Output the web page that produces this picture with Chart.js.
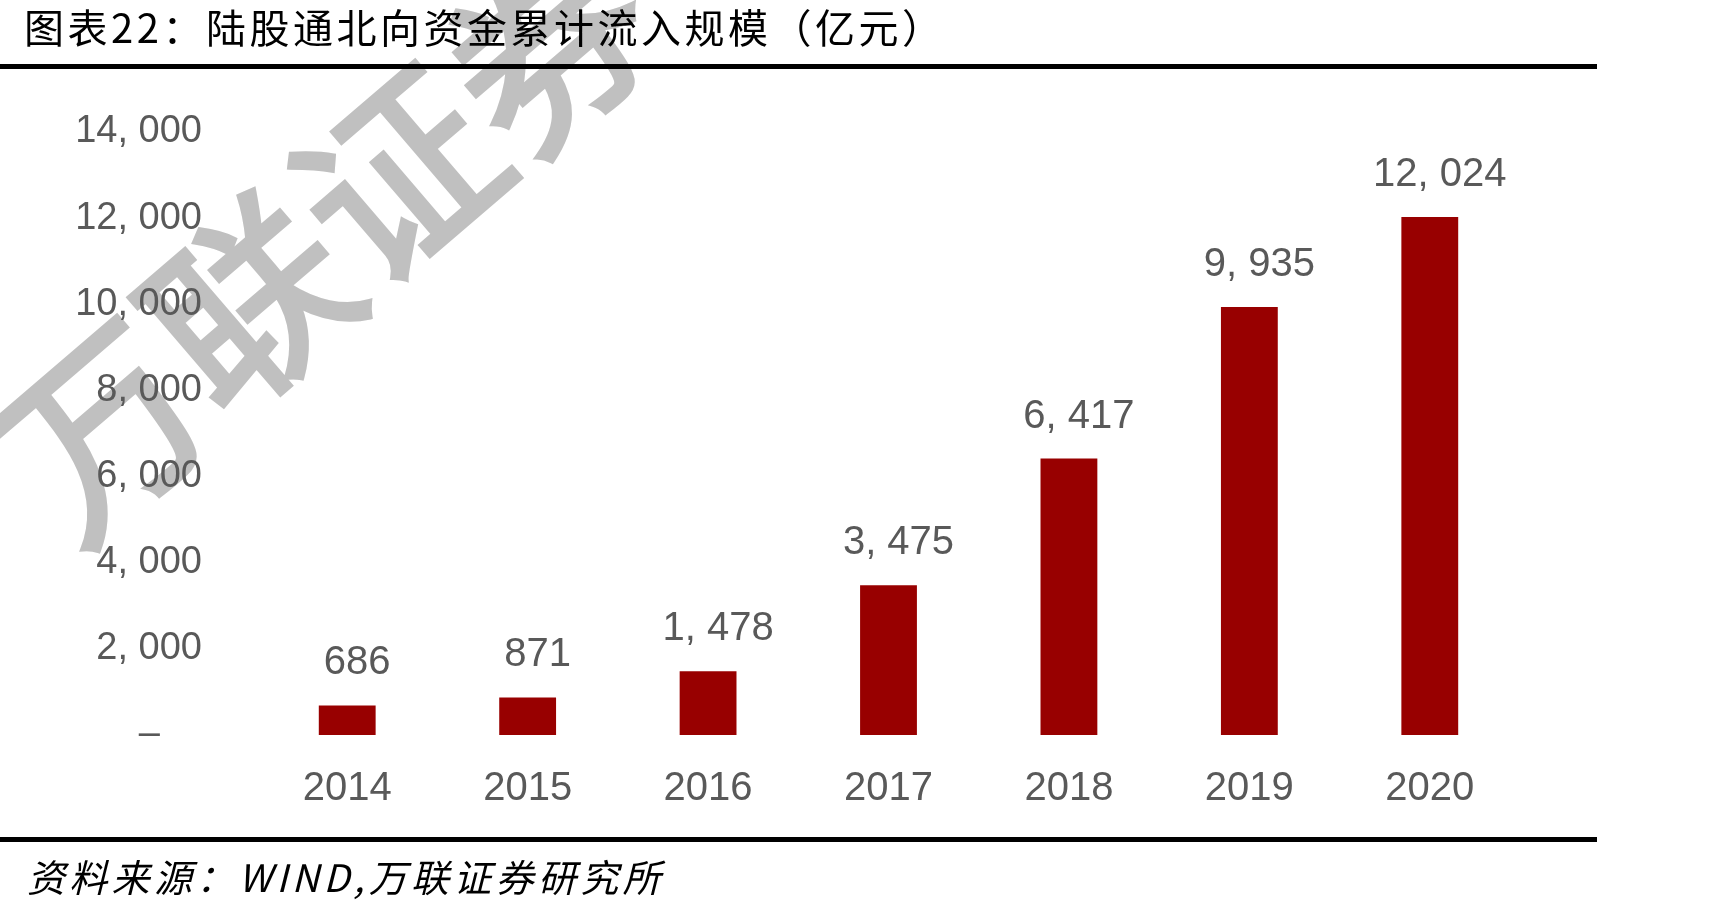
<!DOCTYPE html>
<html>
<head>
<meta charset="utf-8">
<script src="https://cdn.jsdelivr.net/npm/chart.js@4.4.1/dist/chart.umd.min.js"></script>
<style>
  html, body { margin: 0; padding: 0; background: #fff; }
  .wrap { position: relative; width: 1725px; height: 913px; overflow: hidden; }
  #chart { position: absolute; left: 0; top: 0; }
  .title {
    position: absolute; left: 24px; top: 3px;
    font-family: "Noto Sans CJK SC", sans-serif; font-size: 40px; line-height: 46px;
    letter-spacing: 3.5px; color: #000; white-space: nowrap;
  }
  .rule { position: absolute; left: 0; width: 1597px; height: 5px; background: #000; }
  .source {
    position: absolute; left: 27px; top: 853px;
    font-family: "Noto Sans CJK SC", sans-serif; font-size: 38px; line-height: 46px;
    font-style: italic; letter-spacing: 4.3px; color: #000; white-space: nowrap;
  }
</style>
</head>
<body>
<div class="wrap">
  <canvas id="chart" width="1725" height="913"></canvas>
  <div class="title">图表22：陆股通北向资金累计流入规模（亿元）</div>
  <div class="rule" style="top:64px"></div>
  <div class="rule" style="top:837px"></div>
  <div class="source">资料来源：WIND,万联证券研究所</div>
</div>
<script>
// data
const years = ['2014', '2015', '2016', '2017', '2018', '2019', '2020'];
const inflow = [686, 871, 1478, 3475, 6417, 9935, 12024];
const yTicks = [0, 2000, 4000, 6000, 8000, 10000, 12000, 14000];

const grey = '#595959';
const fmt = v => v.toLocaleString('en-US').replace(/,/g, ', ');

// watermark behind everything, regular weight thickened with a stroke
const watermark = {
  id: 'watermark',
  beforeDraw(chart) {
    const ctx = chart.ctx;
    ctx.save();
    ctx.translate(324, 238);
    ctx.rotate(-40.6 * Math.PI / 180);
    ctx.font = '196px "Noto Sans CJK SC"';
    ctx.fillStyle = '#c0c0c0';
    ctx.strokeStyle = '#c0c0c0';
    ctx.lineWidth = 5;
    ctx.lineJoin = 'miter';
    ctx.textAlign = 'center';
    ctx.textBaseline = 'middle';
    ctx.fillText('万联证券', 0, 0);
    ctx.strokeText('万联证券', 0, 0);
    ctx.restore();
  }
};

// value labels above bars
const barLabels = {
  id: 'barLabels',
  afterDatasetsDraw(chart) {
    const ctx = chart.ctx;
    const meta = chart.getDatasetMeta(0);
    ctx.save();
    ctx.font = '40px "Liberation Sans"';
    ctx.fillStyle = grey;
    ctx.textAlign = 'center';
    ctx.textBaseline = 'alphabetic';
    meta.data.forEach((bar, i) => {
      ctx.fillText(fmt(inflow[i]), bar.x + 10, bar.y - 31);
    });
    ctx.restore();
  }
};

new Chart(document.getElementById('chart'), {
  type: 'bar',
  data: {
    labels: years,
    datasets: [{
      data: inflow,
      backgroundColor: '#980000',
      barPercentage: 0.9,
      categoryPercentage: 0.35
    }]
  },
  options: {
    responsive: false,
    animation: false,
    layout: { padding: { left: 0, right: 205, top: 132, bottom: 0 } },
    plugins: { legend: { display: false }, tooltip: { enabled: false } },
    scales: {
      x: {
        grid: { display: false },
        border: { display: false },
        ticks: { color: grey, font: { family: 'Liberation Sans', size: 40 }, padding: 22 },
        afterFit: s => { s.height = 178; }
      },
      y: {
        min: 0,
        max: 14000,
        afterBuildTicks: s => { s.ticks = yTicks.map(v => ({ value: v })); },
        grid: { display: false },
        border: { display: false },
        ticks: {
          color: grey,
          font: { family: 'Liberation Sans', size: 38 },
          padding: 47,
          callback: v => v === 0 ? '–\u00a0\u00a0\u00a0\u00a0' : fmt(v)
        },
        afterFit: s => { s.width = 257; }
      }
    }
  },
  plugins: [watermark, barLabels]
});
</script>
</body>
</html>
